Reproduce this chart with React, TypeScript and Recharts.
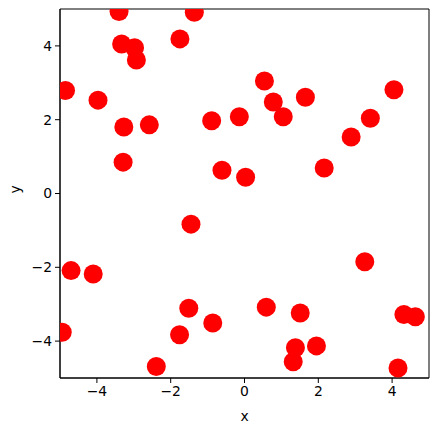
import { ScatterChart, Scatter, XAxis, YAxis, ReferenceArea } from 'recharts';

const xs = [
  -3.4, -1.36, -3.33, -2.98, -2.93, -1.75, -4.85, -3.97, -3.27, -2.58,
  -3.29, -0.89, -0.61, -0.14, 0.03, 0.54, 0.78, 1.05, 1.65, 2.89,
  3.41, 4.05, 2.16, -1.45, -4.7, -4.1, -4.94, -1.51, -0.86, -1.76,
  -2.39, 3.26, 0.59, 1.51, 1.38, 1.32, 1.95, 4.32, 4.63, 4.16,
];
const ys = [
  4.93, 4.91, 4.05, 3.95, 3.62, 4.19, 2.79, 2.53, 1.8, 1.86,
  0.85, 1.97, 0.63, 2.08, 0.44, 3.05, 2.48, 2.08, 2.61, 1.53,
  2.04, 2.81, 0.69, -0.83, -2.09, -2.18, -3.76, -3.11, -3.51, -3.83,
  -4.69, -1.85, -3.08, -3.24, -4.18, -4.56, -4.13, -3.28, -3.34, -4.73,
];
const ticks = [-4, -2, 0, 2, 4];

const points = xs.map((x, i) => ({ x, y: ys[i] }));

const font = { fontFamily: 'DejaVu Sans', fontSize: 13.9, fill: '#000' };
const fmt = (v: number) => (v < 0 ? '\u2212' + Math.abs(v) : String(v));

const Dot = (props: any) => <circle cx={props.cx} cy={props.cy} r={9.5} fill="#ff0000" />;

export default function App() {
  return (
    <div style={{ position: 'absolute', left: 0, top: 0, background: '#fff' }}>
      <ScatterChart width={439} height={432} margin={{ top: 9, right: 10, bottom: 14, left: 0 }}>
        <XAxis
          type="number"
          dataKey="x"
          domain={[-5, 5]}
          ticks={ticks}
          allowDataOverflow
          tickFormatter={fmt}
          tick={font}
          tickSize={5}
          tickMargin={3}
          height={40}
          stroke="#000"
          label={{ value: 'x', position: 'insideBottom', offset: -3, ...font }}
        />
        <YAxis
          type="number"
          dataKey="y"
          domain={[-5, 5]}
          ticks={ticks}
          allowDataOverflow
          tickFormatter={fmt}
          tick={font}
          tickSize={5}
          tickMargin={3}
          width={60}
          stroke="#000"
          label={{ value: 'y', angle: -90, position: 'insideLeft', offset: 15, ...font }}
        />
        <Scatter data={points} shape={Dot} isAnimationActive={false} />
        <ReferenceArea x1={-5} x2={5} y1={-5} y2={5} fill="none" stroke="#000" strokeWidth={1} ifOverflow="visible" />
      </ScatterChart>
    </div>
  );
}
